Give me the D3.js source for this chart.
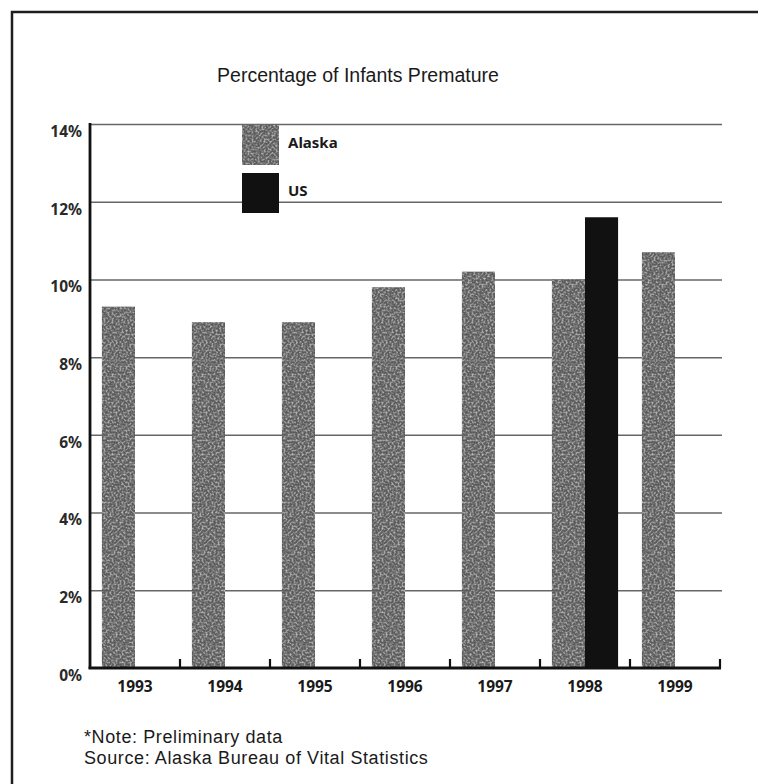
<!DOCTYPE html>
<html>
<head>
<meta charset="utf-8">
<script src="https://cdn.jsdelivr.net/npm/d3@7"></script>
<style>
  html, body { margin: 0; padding: 0; background: #fff; }
  svg { display: block; }
</style>
</head>
<body>
<script>
// ---- data ----
const years = ["1993", "1994", "1995", "1996", "1997", "1998", "1999"];
const alaskaValues = [9.3, 8.9, 8.9, 9.8, 10.2, 10.0, 10.7];
const usValues = [null, null, null, null, null, 11.6, null];
const seriesNames = ["Alaska", "US"];
const yTicks = [0, 2, 4, 6, 8, 10, 12, 14];
const titleText = "Percentage of Infants Premature";
const noteLines = ["*Note: Preliminary data", "Source: Alaska Bureau of Vital Statistics"];

// ---- layout ----
const W = 758, H = 784;
const plot = { left: 90, right: 720, top: 124, bottom: 668 };
const colors = { Alaska: "#5c5c5c", US: "#111111" };

const svg = d3.select("body").append("svg").attr("width", W).attr("height", H);

const defs = svg.append("defs");
const f = defs.append("filter").attr("id", "grain").attr("x", 0).attr("y", 0).attr("width", "100%").attr("height", "100%");
f.append("feTurbulence").attr("type", "fractalNoise").attr("baseFrequency", 0.5).attr("numOctaves", 2).attr("seed", 7).attr("result", "noise");
f.append("feColorMatrix").attr("in", "noise").attr("type", "matrix")
  .attr("values", "0 0 0 0 0.8  0 0 0 0 0.8  0 0 0 0 0.8  1.5 0 0 0 -0.66").attr("result", "speck");
f.append("feComposite").attr("in", "speck").attr("in2", "SourceGraphic").attr("operator", "in").attr("result", "s2");
const fm = f.append("feMerge");
fm.append("feMergeNode").attr("in", "SourceGraphic");
fm.append("feMergeNode").attr("in", "s2");

// frame (top and left edges visible)
svg.append("path").attr("d", `M12,${H} V12 H${W}`).attr("fill", "none").attr("stroke", "#1e1e1e").attr("stroke-width", 2.5);

// title
svg.append("text").attr("x", 358).attr("y", 82).attr("text-anchor", "middle")
  .attr("font-family", "Liberation Sans, Arial, sans-serif").attr("font-size", 19.5).attr("fill", "#1a1a1a")
  .text(titleText);

// scales
const x0 = d3.scaleBand().domain(years).range([plot.left, plot.right]).padding(0);
const x1 = d3.scaleBand().domain(seriesNames).range([0, x0.bandwidth()]).paddingInner(0).paddingOuter(0.36);
const y = d3.scaleLinear().domain([0, 14]).range([plot.bottom, plot.top]);

// gridlines
const grid = svg.append("g").attr("transform", `translate(${plot.left},0)`)
  .call(d3.axisLeft(y).tickValues(yTicks.filter(d => d > 0)).tickSize(-(plot.right - plot.left + 2)).tickFormat(""));
grid.select(".domain").remove();
grid.selectAll(".tick line").attr("stroke", "#666").attr("stroke-width", 1.5);

// y labels
const yAx = svg.append("g").attr("transform", `translate(${plot.left - 8},0)`)
  .call(d3.axisLeft(y).tickValues(yTicks).tickSize(0).tickPadding(0).tickFormat(d => d + "%"));
yAx.select(".domain").remove();
yAx.selectAll("text").attr("font-family", "Noto Sans, sans-serif").attr("font-size", 15.5)
  .attr("font-weight", "bold").attr("fill", "#2a2a2a").attr("dy", "0.8em");

// bars
const rows = years.map((yr, i) => ({ year: yr, Alaska: alaskaValues[i], US: usValues[i] }));
const groups = svg.append("g").selectAll("g").data(rows).join("g")
  .attr("transform", d => `translate(${x0(d.year)},0)`);
groups.selectAll("rect")
  .data(d => seriesNames.map(s => ({ s, v: d[s] })).filter(e => e.v != null))
  .join("rect")
  .attr("x", e => x1(e.s))
  .attr("width", x1.bandwidth())
  .attr("y", e => y(e.v))
  .attr("height", e => y(0) - y(e.v))
  .attr("fill", e => colors[e.s])
  .attr("filter", e => e.s === "Alaska" ? "url(#grain)" : null);

// axis lines
svg.append("line").attr("x1", plot.left).attr("x2", plot.left).attr("y1", plot.top - 1).attr("y2", plot.bottom + 1)
  .attr("stroke", "#111").attr("stroke-width", 2.8);
svg.append("line").attr("x1", plot.left - 1.4).attr("x2", plot.right + 1).attr("y1", plot.bottom).attr("y2", plot.bottom)
  .attr("stroke", "#111").attr("stroke-width", 2.8);

// small tick marks at band boundaries
svg.append("g").selectAll("line").data(years).join("line")
  .attr("x1", d => x0(d) + x0.bandwidth()).attr("x2", d => x0(d) + x0.bandwidth())
  .attr("y1", plot.bottom - 9).attr("y2", plot.bottom)
  .attr("stroke", "#111").attr("stroke-width", 2.2);

// x labels
const xAx = svg.append("g").attr("transform", `translate(0,${plot.bottom})`)
  .call(d3.axisBottom(x0).tickSize(0).tickPadding(13));
xAx.select(".domain").remove();
xAx.selectAll("text").attr("font-family", "Noto Sans, sans-serif").attr("font-size", 15.5)
  .attr("font-weight", "bold").attr("fill", "#1a1a1a");

// legend
const leg = svg.append("g").attr("transform", "translate(242,125)");
seriesNames.forEach((s, i) => {
  const g = leg.append("g").attr("transform", `translate(0,${i * 48})`);
  g.append("rect").attr("width", 37).attr("height", 40).attr("fill", colors[s])
    .attr("filter", s === "Alaska" ? "url(#grain)" : null);
  g.append("text").attr("x", 46).attr("y", 18).attr("dy", "0.35em")
    .attr("font-family", "Noto Sans, sans-serif").attr("font-size", 15).attr("font-weight", "bold")
    .attr("fill", "#1a1a1a").text(s);
});

// notes
svg.append("g").selectAll("text").data(noteLines).join("text")
  .attr("x", 84).attr("y", (d, i) => 743 + i * 21)
  .attr("font-family", "Liberation Sans, Arial, sans-serif").attr("font-size", 18).attr("letter-spacing", 0.6)
  .attr("fill", "#1a1a1a")
  .text(d => d);
</script>
</body>
</html>
